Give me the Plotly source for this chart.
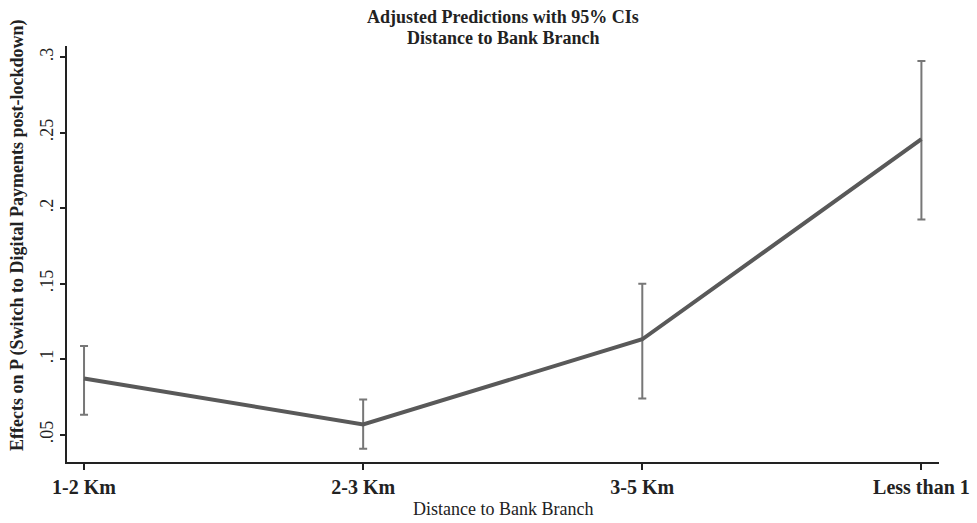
import plotly.graph_objects as go

categories = ["1-2 Km", "2-3 Km", "3-5 Km", "Less than 1"]
estimates = [0.0872, 0.0568, 0.1132, 0.2458]
ci_low = [0.0632, 0.0407, 0.0739, 0.1925]
ci_high = [0.1088, 0.0733, 0.1500, 0.2976]
y_ticks = [0.05, 0.10, 0.15, 0.20, 0.25, 0.30]
y_tick_labels = [".05", ".1", ".15", ".2", ".25", ".3"]

xpos = list(range(len(categories)))
err_plus = [h - e for h, e in zip(ci_high, estimates)]
err_minus = [e - l for e, l in zip(estimates, ci_low)]

FONT = "Liberation Serif"
L, R, T, B = 67, 38, 46, 61
W, H = 977, 523
PW, PH = W - L - R, H - T - B

fig = go.Figure()
fig.add_trace(go.Scatter(
    x=xpos, y=estimates, mode="lines",
    line=dict(color="#595959", width=4),
    error_y=dict(type="data", symmetric=False, array=err_plus, arrayminus=err_minus,
                 color="#777777", thickness=2, width=4),
    showlegend=False, hoverinfo="skip",
))

fig.update_layout(
    width=W, height=H,
    margin=dict(l=L, r=R, t=T, b=B, autoexpand=False),
    paper_bgcolor="white", plot_bgcolor="white",
    font=dict(family=FONT, color="#222222"),
    showlegend=False,
    xaxis=dict(
        range=[-0.061, 3.063], tickmode="array", tickvals=xpos,
        ticktext=["<b>%s</b>" % c for c in categories],
        showline=True, linecolor="#222222", linewidth=1.5,
        ticks="outside", ticklen=6, tickcolor="#222222", tickwidth=1.5,
        showgrid=False, zeroline=False, automargin=False,
        tickfont=dict(family=FONT, size=20, color="#222222"),
    ),
    yaxis=dict(
        range=[0.0319, 0.3075], tickmode="array", tickvals=y_ticks, ticktext=y_tick_labels,
        tickangle=-90,
        showline=True, linecolor="#222222", linewidth=1.5,
        ticks="outside", ticklen=5, tickcolor="#222222", tickwidth=1.5,
        showgrid=False, zeroline=False, automargin=False,
        tickfont=dict(family=FONT, size=18, color="#222222"),
    ),
    annotations=[
        dict(text="<b>Adjusted Predictions with 95% CIs</b>",
             xref="paper", yref="paper", x=0.5, y=(H - B - 17) / PH,
             xanchor="center", yanchor="middle", showarrow=False,
             font=dict(family=FONT, size=18, color="#222222")),
        dict(text="<b>Distance to Bank Branch</b>",
             xref="paper", yref="paper", x=0.5, y=(H - B - 38) / PH,
             xanchor="center", yanchor="middle", showarrow=False,
             font=dict(family=FONT, size=18, color="#222222")),
        dict(text="<b>Effects on P (Switch to Digital Payments post-lockdown)</b>",
             textangle=-90, xref="paper", yref="paper", x=(17 - L) / PW, y=(H - B - 236) / PH,
             xanchor="center", yanchor="middle", showarrow=False,
             font=dict(family=FONT, size=18, color="#222222")),
        dict(text="Distance to Bank Branch",
             xref="paper", yref="paper", x=0.5, y=(H - B - 509) / PH,
             xanchor="center", yanchor="middle", showarrow=False,
             font=dict(family=FONT, size=18, color="#222222")),
    ],
)

fig.write_html("out.html", config={"displayModeBar": False},
               post_script="document.body.style.margin='0';")
